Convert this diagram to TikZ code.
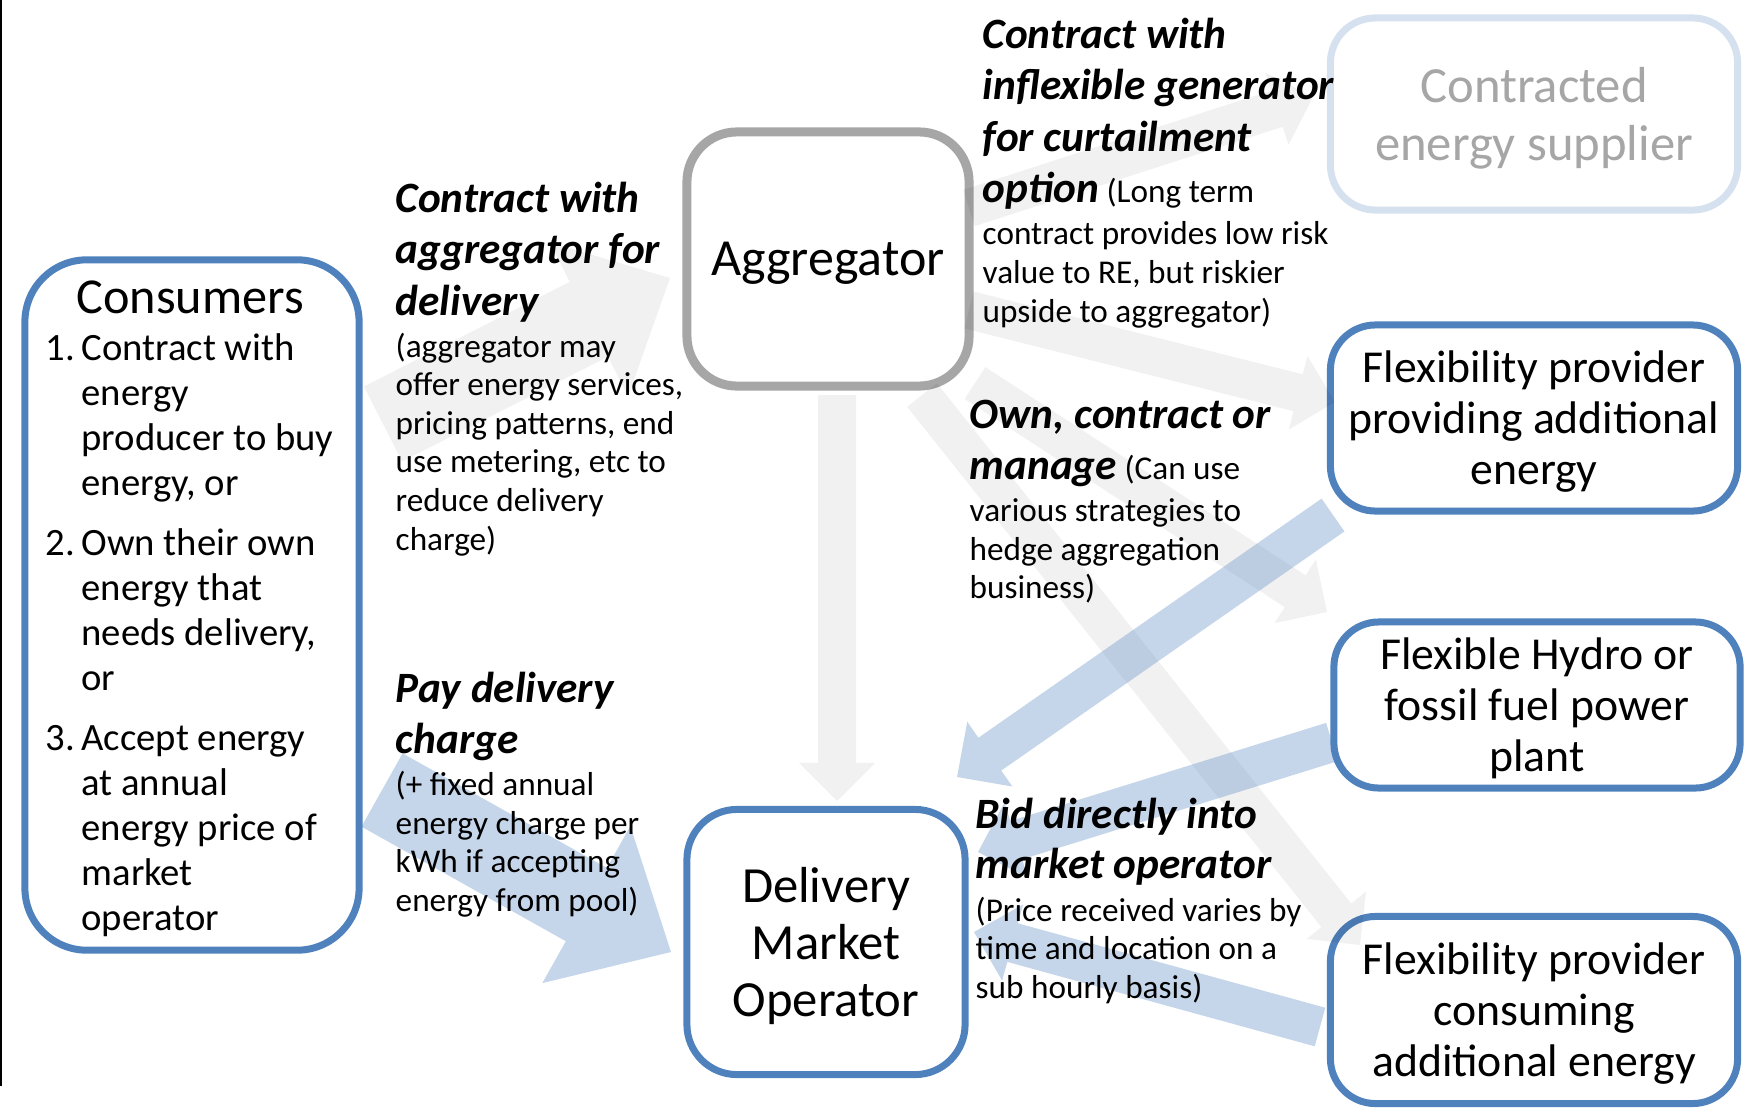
\documentclass[tikz,border=0pt]{standalone}
\usepackage{fontspec}
\setmainfont{Carlito}
\usetikzlibrary{calc,positioning}

\definecolor{boxblue}{HTML}{4F81BD}
\definecolor{boxgray}{HTML}{A6A6A6}
\definecolor{paleblue}{HTML}{D6E1EF}

\newcommand{\tight}{\lineskiplimit=-20pt\relax}
\tikzset{
  box/.style={draw=boxblue, line width=0.07cm, rounded corners=0.45cm, fill=white,
    align=center, inner sep=0pt, text depth=0pt, font=\fontsize{13}{14.5}\selectfont},
  lbl/.style={align=left, anchor=north west, inner sep=0pt,
    font=\fontsize{9.45}{10.95}\selectfont\tight},
  grayflow/.style={fill=black, fill opacity=0.055},
  blueflow/.style={fill=boxblue, fill opacity=0.32},
}
\newcommand{\hd}[1]{{\bfseries\itshape\fontsize{12.3}{14.65}\selectfont #1}}
\newcommand{\ind}{\makebox[10.2pt][l]{}}
% freccia piena: stile, coda, punta, mezza asta, mezza punta, lunghezza punta
\newcommand{\flow}[6]{%
  \coordinate (fb) at ($(#3)!#6!(#2)$);
  \fill[#1] ($(#2)!#4!90:(#3)$) -- ($(fb)!#4!90:(#3)$) -- ($(fb)!#5!90:(#3)$) -- (#3)
    -- ($(fb)!#5!-90:(#3)$) -- ($(fb)!#4!-90:(#3)$) -- ($(#2)!#4!-90:(#3)$) -- cycle;
}

\begin{document}
\begin{tikzpicture}[x=0.01cm, y=-0.01cm]
  \useasboundingbox (0,0) rectangle (1755,1109);
  \draw[line width=0.02cm] (1,0) -- (1,1086);

  % Riquadri
  \node[box, minimum width=3.34cm, minimum height=6.9cm, rounded corners=0.62cm] (cons) at (192,605) {};
  \node[box, draw=boxgray, line width=0.09cm, minimum width=2.82cm, minimum height=2.54cm,
    rounded corners=0.5cm, font=\fontsize{14.8}{17}\selectfont] (agg) at (828,259) {Aggregator};
  \node[box, minimum width=2.78cm, minimum height=2.65cm, rounded corners=0.5cm,
    font=\fontsize{14.4}{16.3}\selectfont] (dmo) at (826,942) {Delivery\\Market\\Operator};
  \node[box, draw=paleblue, text=boxgray, minimum width=4.07cm, minimum height=1.92cm,
    font=\fontsize{14.4}{16.5}\selectfont] (supp) at (1534,114) {Contracted\\energy supplier};
  \node[box, minimum width=4.07cm, minimum height=1.86cm] (flexup) at (1534,418)
    {Flexibility provider\\providing additional\\energy};
  \node[box, minimum width=4.06cm, minimum height=1.66cm] (hydro) at (1537,705)
    {Flexible Hydro or\\fossil fuel power\\plant};
  \node[box, minimum width=4.07cm, minimum height=1.87cm] (flexdown) at (1534,1010)
    {Flexibility provider\\consuming\\additional energy};

  % Consumatori
  \node[font=\fontsize{14.3}{17}\selectfont] (constitle) at (190,297) {Consumers};
  \node[lbl, font=\fontsize{11}{12.8}\selectfont\tight] (conslist) at (45,333) {%
    \makebox[10.2pt][l]{1.}Contract with\\
    \ind energy\\
    \ind producer to buy\\
    \ind energy, or\\[4.3pt]
    \makebox[10.2pt][l]{2.}Own their own\\
    \ind energy that\\
    \ind needs delivery,\\
    \ind or\\[4.3pt]
    \makebox[10.2pt][l]{3.}Accept energy\\
    \ind at annual\\
    \ind energy price of\\
    \ind market\\
    \ind operator};

  % Frecce
  \coordinate (c2a-s) at (383,424);   \coordinate (c2a-e) at (670,278);
  \coordinate (a2s-s) at (969,208);   \coordinate (a2s-e) at (1313,97);
  \coordinate (a2u-s) at (969,310);   \coordinate (a2u-e) at (1335,402);
  \coordinate (a2h-s) at (975,383);   \coordinate (a2h-e) at (1327,612);
  \coordinate (a2d-s) at (922,395);   \coordinate (a2d-e) at (1360,945);
  \coordinate (a2m-s) at (837,395);   \coordinate (a2m-e) at (837,801);
  \coordinate (c2m-s) at (382,790);   \coordinate (c2m-e) at (671,952);
  \coordinate (u2m-s) at (1333,515);  \coordinate (u2m-e) at (957,777);
  \coordinate (h2m-s) at (1332,742);  \coordinate (h2m-e) at (978,852);
  \coordinate (d2m-s) at (1320,1027); \coordinate (d2m-e) at (974,932);

  \flow{grayflow}{c2a-s}{c2a-e}{0.42cm}{0.865cm}{0.91cm}
  \foreach \a in {a2s,a2u,a2h,a2d,a2m}
    {\flow{grayflow}{\a-s}{\a-e}{0.19cm}{0.38cm}{0.38cm}}
  \flow{blueflow}{c2m-s}{c2m-e}{0.42cm}{0.9cm}{0.97cm}
  \foreach \a in {u2m,h2m,d2m}
    {\flow{blueflow}{\a-s}{\a-e}{0.2cm}{0.395cm}{0.4cm}}

  % Etichette
  \node[lbl] (lblagg) at (395,181) {%
    \hd{Contract with}\\[3.7pt]
    \hd{aggregator for}\\[3.7pt]
    \hd{delivery}\\[1.1pt]
    (aggregator may\\
    offer energy services,\\
    pricing patterns, end\\
    use metering, etc to\\
    reduce delivery\\
    charge)};
  \node[lbl] (lblpay) at (395,671) {%
    \hd{Pay delivery}\\[3.7pt]
    \hd{charge}\\[1.1pt]
    (+ fixed annual\\
    energy charge per\\
    kWh if accepting\\
    energy from pool)};
  \node[lbl] (lblcurt) at (982,17) {%
    \hd{Contract with}\\[3.7pt]
    \hd{inflexible generator}\\[3.7pt]
    \hd{for curtailment}\\[3.7pt]
    \hd{option} (Long term\\[1.1pt]
    contract provides low risk\\
    value to RE, but riskier\\
    upside to aggregator)};
  \node[lbl] (lblown) at (969,399) {%
    \hd{Own, contract or}\\[3.7pt]
    \hd{manage} (Can use\\[1.1pt]
    various strategies to\\
    hedge aggregation\\
    business)};
  \node[lbl] (lblbid) at (975,797) {%
    \hd{Bid directly into}\\[3.5pt]
    \hd{market operator}\\[1.1pt]
    (Price received varies by\\
    time and location on a\\
    sub hourly basis)};
\end{tikzpicture}
\end{document}
